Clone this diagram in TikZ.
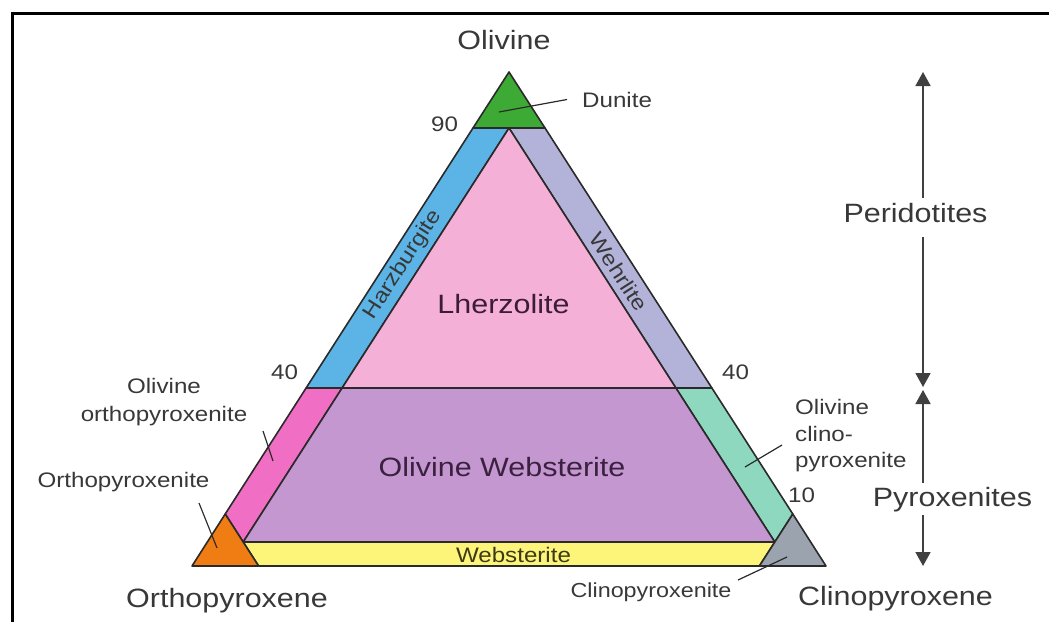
\documentclass[tikz,border=0pt]{standalone}
\usepackage{fontspec}
\setmainfont[FakeStretch=1.15]{Liberation Sans}
\usetikzlibrary{arrows.meta}
\definecolor{cdun}{HTML}{3DAA35}
\definecolor{charz}{HTML}{5BB4E5}
\definecolor{clher}{HTML}{F5B0D8}
\definecolor{cweh}{HTML}{B3B3DA}
\definecolor{cowebs}{HTML}{C497D0}
\definecolor{coopx}{HTML}{F06EC4}
\definecolor{cocpx}{HTML}{8ED8C0}
\definecolor{cwebs}{HTML}{FDF47A}
\definecolor{copx}{HTML}{F07D14}
\definecolor{ccpx}{HTML}{9AA3AE}
\definecolor{edge}{HTML}{2A2A2A}
\definecolor{txt}{HTML}{383838}
\definecolor{txtlher}{HTML}{3B1D35}
\definecolor{txtowebs}{HTML}{3A2140}
\definecolor{txtwebs}{HTML}{3C3A14}
\begin{document}
\begin{tikzpicture}[x=1pt,y=-1pt,
  region/.style={draw=edge,line width=1.6pt,line join=round},
  lbl/.style={inner sep=0pt,text=txt},
  big/.style={font=\fontsize{26.5}{30}\selectfont},
  small/.style={font=\fontsize{21}{28}\selectfont},
  lead/.style={draw=edge,line width=1.2pt},
  arr/.style={draw=black!75,line width=1.6pt,-{Triangle[length=14pt,width=15pt]}},
  frame/.style={draw=black,line width=3pt}]
\useasboundingbox (0,0) rectangle (1049,622);
% frame
\coordinate (f0) at (12,622);
\coordinate (f1) at (12,13);
\coordinate (f2) at (1049,13);
\draw[frame] (f0) -- (f1) -- (f2);
% vertices
\coordinate (A) at (509,72);
\coordinate (Dl) at (473,128);
\coordinate (Dr) at (545,128);
\coordinate (I) at (509,128);
\coordinate (Hl) at (306.1,388);
\coordinate (Li) at (342.1,388);
\coordinate (Ri) at (675.9,388);
\coordinate (Wr) at (711.9,388);
\coordinate (Pi) at (243.2,542);
\coordinate (Ci) at (774.8,542);
\coordinate (Ot) at (225.2,514);
\coordinate (Ob) at (258.6,566);
\coordinate (L) at (192,566);
\coordinate (Gt) at (792.8,514);
\coordinate (Gb) at (759.4,566);
\coordinate (R) at (826,566);
% regions
\fill[cdun,region] (A) -- (Dl) -- (Dr) -- cycle;
\fill[charz,region] (Dl) -- (I) -- (Li) -- (Hl) -- cycle;
\fill[cweh,region] (I) -- (Dr) -- (Wr) -- (Ri) -- cycle;
\fill[clher,region] (I) -- (Ri) -- (Li) -- cycle;
\fill[coopx,region] (Hl) -- (Li) -- (Pi) -- (Ot) -- cycle;
\fill[cocpx,region] (Ri) -- (Wr) -- (Gt) -- (Ci) -- cycle;
\fill[cowebs,region] (Li) -- (Ri) -- (Ci) -- (Pi) -- cycle;
\fill[cwebs,region] (Pi) -- (Ci) -- (Gb) -- (Ob) -- cycle;
\fill[copx,region] (L) -- (Ot) -- (Ob) -- cycle;
\fill[ccpx,region] (R) -- (Gt) -- (Gb) -- cycle;
% labels
\node[lbl,big,anchor=base] (olv) at (504,49) {Olivine};
\node[lbl,small,anchor=base west] (dunite) at (582,107) {Dunite};
\node[lbl,small,anchor=base] (n90) at (444.5,131) {90};
\node[lbl,small,anchor=base] (n40l) at (284.5,379) {40};
\node[lbl,small,anchor=base] (n40r) at (735.5,379) {40};
\node[lbl,small,anchor=base west] (n10) at (788,502) {10};
\node[lbl,big,anchor=base] (peri) at (915.5,222) {Peridotites};
\node[lbl,big,anchor=base] (pyro) at (952.5,506) {Pyroxenites};
\node[lbl,big,anchor=base,text=txtlher] (lher) at (503.5,313) {Lherzolite};
\node[lbl,big,anchor=base,text=txtowebs] (owebs) at (502,476) {Olivine Websterite};
\node[lbl,small,anchor=base,text=txtwebs] (webs) at (513.5,562) {Websterite};
\node[lbl,small,rotate=57.3] (harz) at (403,265) {Harzburgite};
\node[lbl,small,rotate=-57.3] (weh) at (619,272) {Wehrlite};
\node[lbl,small,align=center] (oopx) at (164,402) {Olivine\\orthopyroxenite};
\node[lbl,align=left,anchor=west,font=\fontsize{21}{26.5}\selectfont] (ocpx) at (795,436) {Olivine\\clino-\\pyroxenite};
\node[lbl,small,anchor=base] (opxite) at (123.5,487) {Orthopyroxenite};
\node[lbl,font=\fontsize{20.3}{26}\selectfont,anchor=base] (cpxite) at (651,597) {Clinopyroxenite};
\node[lbl,big,anchor=base] (opx) at (227,607) {Orthopyroxene};
\node[lbl,big,anchor=base] (cpx) at (895.5,605) {Clinopyroxene};
% leader lines
\coordinate (dun1) at (499,112);
\draw[lead] (dun1) -- ([xshift=-15pt]dunite.west);
\coordinate (oo1) at (263,431);
\coordinate (oo2) at (273,461);
\draw[lead] (oo1) -- (oo2);
\coordinate (op1) at (199,503);
\coordinate (op2) at (217,548);
\draw[lead] (op1) -- (op2);
\coordinate (oc1) at (782,445);
\coordinate (oc2) at (745,467);
\draw[lead] (oc1) -- (oc2);
\coordinate (cp1) at (787,557);
\coordinate (cp2) at (738,580);
\draw[lead] (cp1) -- (cp2);
% arrows
\coordinate (pa1) at (923,198);
\coordinate (pa2) at (923,72);
\coordinate (pa3) at (923,237);
\coordinate (pa4) at (923,387);
\coordinate (py1) at (923,483);
\coordinate (py2) at (923,390);
\coordinate (py3) at (923,515);
\coordinate (py4) at (923,566);
\draw[arr] (pa1) -- (pa2);
\draw[arr] (pa3) -- (pa4);
\draw[arr] (py1) -- (py2);
\draw[arr] (py3) -- (py4);
\end{tikzpicture}
\end{document}
